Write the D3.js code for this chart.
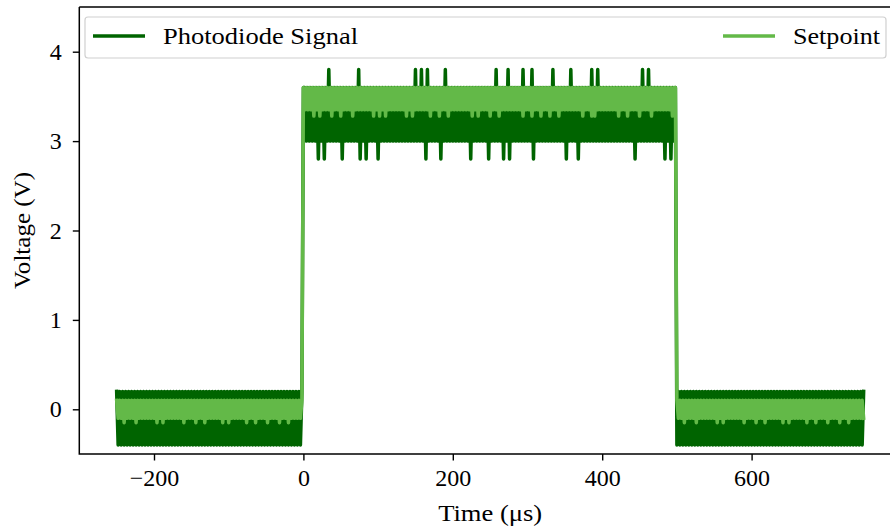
<!DOCTYPE html>
<html>
<head>
<meta charset="utf-8">
<script src="https://cdn.jsdelivr.net/npm/d3@7"></script>
<style>
    body { margin: 0; background: #fff; }
    #chart { width: 890px; height: 529px; }
    text { font-family: 'Liberation Serif', 'DejaVu Serif', serif; fill: #000; }
</style>
</head>
<body>
<div id="chart"></div>
<script>
// sampling of the recorded traces (µs)
const sampleStep = 2;
const segmentStarts = [-250, 0, 500];

// quantised voltage levels, indexed by the code digits below
const photodiodeLowLevels = [-0.4, -0.2, 0.0, 0.2];
const photodiodeHighLevels = [2.8, 3.0, 3.2, 3.4, 3.6, 3.8];
const setpointLowLevels = [-0.15, -0.1, 0.0, 0.1];
const setpointHighLevels = [3.28, 3.35, 3.45, 3.6];

// photodiode samples, one digit per sample
const photodiodeBefore =
    '3030303030' + '3030303030' + '3030303030' + '3030303030' +
    '3030303030' + '3030303030' + '3030303030' + '3030303030' +
    '3030303030' + '3030303030' + '3030303030' + '3030303030' + '30303';
const photodiodePulse =
    '4414141414' + '0414041514' + '1414140414' + '1414141504' + '1404141414' +
    '0414141414' + '1414141414' + '1414151415' + '1405141414' + '1404151414' +
    '1414141414' + '1404141414' + '1414041415' + '1414041504' + '1414141514' +
    '1415041414' + '1414141514' + '1414140415' + '1414041414' + '1415141514' +
    '1414141414' + '1414141414' + '1404141514' + '1514141414' + '1404140414';
const photodiodeAfter =
    '0303030303' + '0303030303' + '0303030303' + '0303030303' +
    '0303030303' + '0303030303' + '0303030303' + '0303030303' +
    '0303030303' + '0303030303' + '0303030303' + '0303030303' + '030303';

// setpoint samples, one digit per sample
const setpointBefore =
    '3131303131' + '3130313131' + '3131313031' + '3031313131' +
    '3131303131' + '3130313130' + '3131313131' + '3031303131' +
    '3131313031' + '3130313131' + '3031313130' + '3131303131' + '31313';
const setpointPulse =
    '3131313031' + '3031313130' + '3131303131' + '3130313131' + '3131313031' +
    '3031303131' + '3131313130' + '3130313131' + '3131303131' + '3031313031' +
    '3131313131' + '3130313031' + '3131303131' + '3031313131' + '3131313031' +
    '3130313130' + '3131303131' + '3031313131' + '3131313031' + '3130303131' +
    '3131313131' + '3031313031' + '3131303131' + '3130313131' + '3131313033';
const setpointAfter =
    '3131303131' + '3130313131' + '3131313031' + '3031313131' +
    '3131303131' + '3130313130' + '3131313131' + '3031303131' +
    '3131313031' + '3130313131' + '3031313130' + '3131303131' + '313131';

const xTicks = [-200, 0, 200, 400, 600];
const yTicks = [0, 1, 2, 3, 4];
const seriesNames = ['Photodiode Signal', 'Setpoint'];
const seriesColors = ['#006400', '#63b948'];

function decode(codes, levels, t0) {
    return codes.split('').map((c, i) => ({ t: t0 + i * sampleStep, v: levels[+c] }));
}

class ChartView {
    constructor(selector) {
        this.width = 890;
        this.height = 529;
        this.fontSize = 24;
        this.svg = d3.select(selector)
            .append('svg')
            .attr('width', this.width)
            .attr('height', this.height);

        this.x = d3.scaleLinear().domain([-300, 800]).range([79.3, 901]);
        this.y = d3.scaleLinear().domain([-0.5, 4.5]).range([454, 7]);

        this.series = [
            [].concat(
                decode(photodiodeBefore, photodiodeLowLevels, segmentStarts[0]),
                decode(photodiodePulse, photodiodeHighLevels, segmentStarts[1]),
                decode(photodiodeAfter, photodiodeLowLevels, segmentStarts[2])),
            [].concat(
                decode(setpointBefore, setpointLowLevels, segmentStarts[0]),
                decode(setpointPulse, setpointHighLevels, segmentStarts[1]),
                decode(setpointAfter, setpointLowLevels, segmentStarts[2]))
        ];

        this.drawLines();
        this.drawAxes();
        this.drawLegend();
    }

    drawLines() {
        const line = d3.line()
            .x(d => this.x(d.t))
            .y(d => this.y(d.v));

        this.svg.append('g')
            .selectAll('path')
            .data(this.series)
            .join('path')
            .attr('d', line)
            .attr('fill', 'none')
            .attr('stroke', (d, i) => seriesColors[i])
            .attr('stroke-width', 3.5)
            .attr('stroke-linejoin', 'round')
            .attr('stroke-linecap', 'square');
    }

    drawAxes() {
        const left = this.x.range()[0];
        const bottom = this.y.range()[0];
        const top = this.y.range()[1];

        const xAxis = this.svg.append('g')
            .attr('transform', `translate(0,${bottom})`)
            .call(d3.axisBottom(this.x).tickValues(xTicks).tickSize(6.5).tickSizeOuter(0).tickPadding(8));

        const yAxis = this.svg.append('g')
            .attr('transform', `translate(${left},0)`)
            .call(d3.axisLeft(this.y).tickValues(yTicks).tickFormat(d3.format('d'))
                .tickSize(6.5).tickSizeOuter(0).tickPadding(11));

        [xAxis, yAxis].forEach(axis => {
            axis.select('.domain').remove();
            axis.selectAll('.tick line').attr('stroke', '#000').attr('stroke-width', 1.4);
            axis.selectAll('.tick text')
                .style('font-family', "'Liberation Serif', serif")
                .style('font-size', this.fontSize + 'px');
        });

        // spines (right one falls outside the picture)
        this.svg.append('path')
            .attr('d', `M${left},${top}V${bottom}H${this.width}M${left},${top}H${this.width}`)
            .attr('fill', 'none')
            .attr('stroke', '#000')
            .attr('stroke-width', 1.5);

        this.svg.append('text')
            .attr('x', (left + this.x.range()[1]) / 2)
            .attr('y', 521)
            .attr('text-anchor', 'middle')
            .attr('textLength', 104)
            .attr('lengthAdjust', 'spacingAndGlyphs')
            .style('font-size', this.fontSize + 'px')
            .text('Time (μs)');

        this.svg.append('text')
            .attr('transform', `translate(30,${(top + bottom) / 2}) rotate(-90)`)
            .attr('text-anchor', 'middle')
            .attr('textLength', 117)
            .attr('lengthAdjust', 'spacingAndGlyphs')
            .style('font-size', this.fontSize + 'px')
            .text('Voltage (V)');
    }

    drawLegend() {
        const legend = this.svg.append('g').attr('class', 'legend');

        legend.append('rect')
            .attr('x', 85)
            .attr('y', 17)
            .attr('width', 801)
            .attr('height', 41)
            .attr('rx', 3)
            .attr('fill', 'rgba(255,255,255,0.8)')
            .attr('stroke', '#d0d0d0')
            .attr('stroke-width', 1.2);

        const entries = [{ x: 93, w: 195 }, { x: 723, w: 87 }];

        entries.forEach((e, i) => {
            legend.append('line')
                .attr('x1', e.x)
                .attr('x2', e.x + 52)
                .attr('y1', 36)
                .attr('y2', 36)
                .attr('stroke', seriesColors[i])
                .attr('stroke-width', 3.5);

            legend.append('text')
                .attr('x', e.x + 70)
                .attr('y', 44)
                .attr('textLength', e.w)
                .attr('lengthAdjust', 'spacingAndGlyphs')
                .style('font-size', this.fontSize + 'px')
                .text(seriesNames[i]);
        });
    }
}

new ChartView('#chart');
</script>
</body>
</html>
